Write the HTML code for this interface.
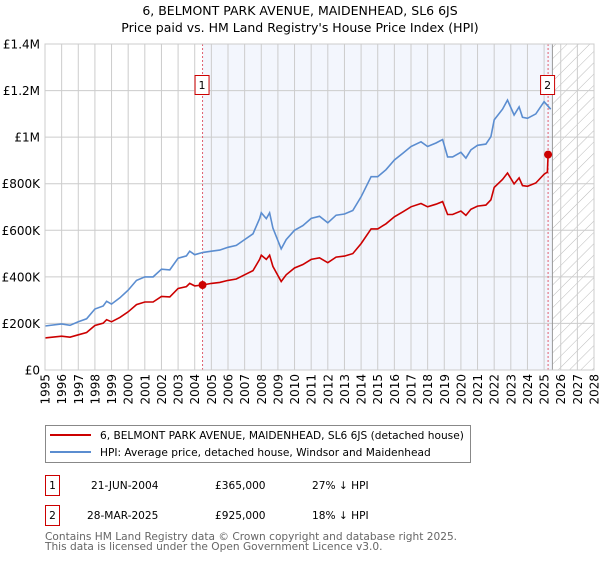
<!DOCTYPE html>
<html><head><meta charset="utf-8"><style>
body{margin:0;background:#fff;font-family:"Liberation Sans","DejaVu Sans",sans-serif;}
svg text{font-family:"DejaVu Sans","Liberation Sans",sans-serif;}
</style></head><body>
<svg id="c" width="600" height="560" xmlns="http://www.w3.org/2000/svg">
<defs><pattern id="hatch" width="8" height="8" patternUnits="userSpaceOnUse" patternTransform="rotate(45)"><line x1="0" y1="0" x2="0" y2="8" stroke="#bbb" stroke-width="1"/></pattern></defs>
<text x="300" y="15" text-anchor="middle" font-size="12.5">6, BELMONT PARK AVENUE, MAIDENHEAD, SL6 6JS</text>
<text x="300" y="32" text-anchor="middle" font-size="12.5">Price paid vs. HM Land Registry's House Price Index (HPI)</text>
<g id="plot"></g>
<g id="legend">
<rect x="45.5" y="425.5" width="425" height="37" fill="#fff" stroke="#888"/>
<line x1="50" y1="435" x2="91" y2="435" stroke="#cc0000" stroke-width="2"/>
<text x="100" y="439" font-size="10.6">6, BELMONT PARK AVENUE, MAIDENHEAD, SL6 6JS (detached house)</text>
<line x1="50" y1="452" x2="91" y2="452" stroke="#5b8dd0" stroke-width="2"/>
<text x="100" y="456" font-size="10.6">HPI: Average price, detached house, Windsor and Maidenhead</text>
</g>
<g font-size="10.6">
<rect x="45.5" y="475.5" width="14" height="20" fill="#fff" stroke="#cc0000"/><text x="52.5" y="489" text-anchor="middle">1</text>
<text x="91" y="489">21-JUN-2004</text><text x="215" y="489">£365,000</text><text x="312" y="489">27% ↓ HPI</text>
<rect x="45.5" y="505.5" width="14" height="20" fill="#fff" stroke="#cc0000"/><text x="52.5" y="519" text-anchor="middle">2</text>
<text x="87" y="519">28-MAR-2025</text><text x="215" y="519">£925,000</text><text x="312" y="519">18% ↓ HPI</text>
</g>
<text x="45" y="540" font-size="10.6" fill="#666">Contains HM Land Registry data © Crown copyright and database right 2025.</text>
<text x="45" y="550" font-size="10.6" fill="#666">This data is licensed under the Open Government Licence v3.0.</text>
</svg>
<script>
const yTicks=[0,200000,400000,600000,800000,1000000,1200000,1400000];
const yLabels=["£0","£200K","£400K","£600K","£800K","£1M","£1.2M","£1.4M"];
const hpiYears=[1995,1996,1996.5,1997,1997.5,1998,1998.5,1998.7,1999,1999.5,2000,2000.5,2001,2001.5,2002,2002.5,2003,2003.5,2003.7,2004,2004.5,2005,2005.5,2006,2006.5,2007,2007.5,2007.9,2008,2008.3,2008.5,2008.7,2009.2,2009.5,2010,2010.5,2011,2011.5,2012,2012.5,2013,2013.5,2014,2014.6,2015,2015.5,2016,2016.5,2017,2017.6,2018,2018.5,2018.9,2019.2,2019.5,2020,2020.3,2020.6,2021,2021.5,2021.8,2022,2022.5,2022.8,2023.2,2023.5,2023.7,2024,2024.5,2025,2025.4];
const hpiValues=[189000,198000,192000,207000,220000,262000,275000,295000,283000,310000,343000,385000,400000,400000,433000,430000,480000,490000,510000,495000,505000,510000,515000,527000,535000,560000,585000,650000,675000,650000,675000,610000,520000,560000,600000,620000,651000,660000,632000,665000,670000,685000,744000,830000,830000,860000,902000,930000,960000,980000,960000,975000,990000,915000,915000,935000,910000,945000,965000,970000,1002000,1074000,1120000,1159000,1095000,1130000,1085000,1081000,1100000,1152000,1120000];
const priceYears=[1995,1996,1996.5,1997,1997.5,1998,1998.5,1998.7,1999,1999.5,2000,2000.5,2001,2001.5,2002,2002.5,2003,2003.5,2003.7,2004,2004.47,2005,2005.5,2006,2006.5,2007,2007.5,2007.9,2008,2008.3,2008.5,2008.7,2009.2,2009.5,2010,2010.5,2011,2011.5,2012,2012.5,2013,2013.5,2014,2014.6,2015,2015.5,2016,2016.5,2017,2017.6,2018,2018.5,2018.9,2019.2,2019.5,2020,2020.3,2020.6,2021,2021.5,2021.8,2022,2022.5,2022.8,2023.2,2023.5,2023.7,2024,2024.5,2025,2025.2,2025.24];
const priceValues=[138000,145000,141000,151000,161000,191000,201000,216000,207000,226000,250000,281000,292000,292000,316000,314000,350000,358000,372000,361000,365000,372000,376000,385000,391000,409000,427000,475000,493000,475000,493000,445000,380000,409000,438000,453000,475000,482000,461000,485000,489000,500000,543000,606000,606000,628000,658000,679000,701000,715000,701000,712000,723000,668000,668000,683000,664000,690000,704000,708000,731000,784000,818000,846000,799000,825000,792000,789000,803000,841000,850000,925000];
const sales=[{n:"1",year:2004.47,value:365000},{n:"2",year:2025.24,value:925000}];
const X0=45,X1=594,Y0=370,Y1=44,yearMin=1995,yearMax=2028,vMax=1400000,hatchStart=2025.5;
const sx=y=>X0+(y-yearMin)/(yearMax-yearMin)*(X1-X0);
const sy=v=>Y0-v/vMax*(Y0-Y1);
const NS="http://www.w3.org/2000/svg";
const g=document.getElementById('plot');
function mk(t,a,p){const e=document.createElementNS(NS,t);for(const k in a)e.setAttribute(k,a[k]);(p||g).appendChild(e);return e;}
let e;
e=mk('rect',{x:sx(sales[0].year),y:Y1,width:sx(hatchStart)-sx(sales[0].year),height:Y0-Y1,fill:'#f3f6fd'});


e=mk('rect',{x:sx(hatchStart),y:Y1,width:X1-sx(hatchStart),height:Y0-Y1,fill:'url(#hatch)'});


for(let yr=yearMin;yr<=yearMax;yr++){
 e=mk('line',{x1:sx(yr),x2:sx(yr),y1:Y1,y2:Y0,stroke:'#ccc','stroke-width':1});
 
 
 const x=sx(yr)+4.5,y=Y0+4;
 e=mk('text',{x:x,y:y,transform:`rotate(-90 ${x} ${y})`,'text-anchor':'end','font-size':'12'});
 e.textContent=yr;
 
 
}
yTicks.forEach((v,i)=>{
 e=mk('line',{x1:X0,x2:X1,y1:sy(v),y2:sy(v),stroke:'#ccc','stroke-width':1});
 
 
 e=mk('text',{x:X0-5,y:sy(v)+4.5,'text-anchor':'end','font-size':'12'});
 e.textContent=yLabels[i];
 
 
});
e=mk('line',{x1:sx(hatchStart),x2:sx(hatchStart),y1:Y1,y2:Y0,stroke:'#999','stroke-width':1});


sales.forEach(s=>{
 e=mk('line',{x1:sx(s.year),x2:sx(s.year),y1:Y1,y2:Y0,stroke:'#e06070','stroke-width':1,'stroke-dasharray':'2,2'});
 
 
});
e=mk('path',{d:hpiYears.map((y,i)=>(i?'L':'M')+sx(y).toFixed(1)+','+sy(hpiValues[i]).toFixed(1)).join(''),fill:'none',stroke:'#5b8dd0','stroke-width':1.6});


e=mk('path',{d:priceYears.map((y,i)=>(i?'L':'M')+sx(y).toFixed(1)+','+sy(priceValues[i]).toFixed(1)).join(''),fill:'none',stroke:'#cc0000','stroke-width':1.6});


sales.forEach(s=>{
 e=mk('circle',{cx:sx(s.year),cy:sy(s.value),r:4,fill:'#cc0000'});
 
 
 const bx=sx(s.year)-7.5;
 e=mk('rect',{x:bx,y:75.5,width:14,height:19,fill:'#fff',stroke:'#cc0000'});
 
 
 e=mk('text',{x:bx+7,y:89,'text-anchor':'middle','font-size':'11'});
 e.textContent=s.n;
 
 
});
e=mk('rect',{x:X0,y:Y1,width:X1-X0,height:Y0-Y1,fill:'none',stroke:'#ccc'});


</script>
</body></html>
